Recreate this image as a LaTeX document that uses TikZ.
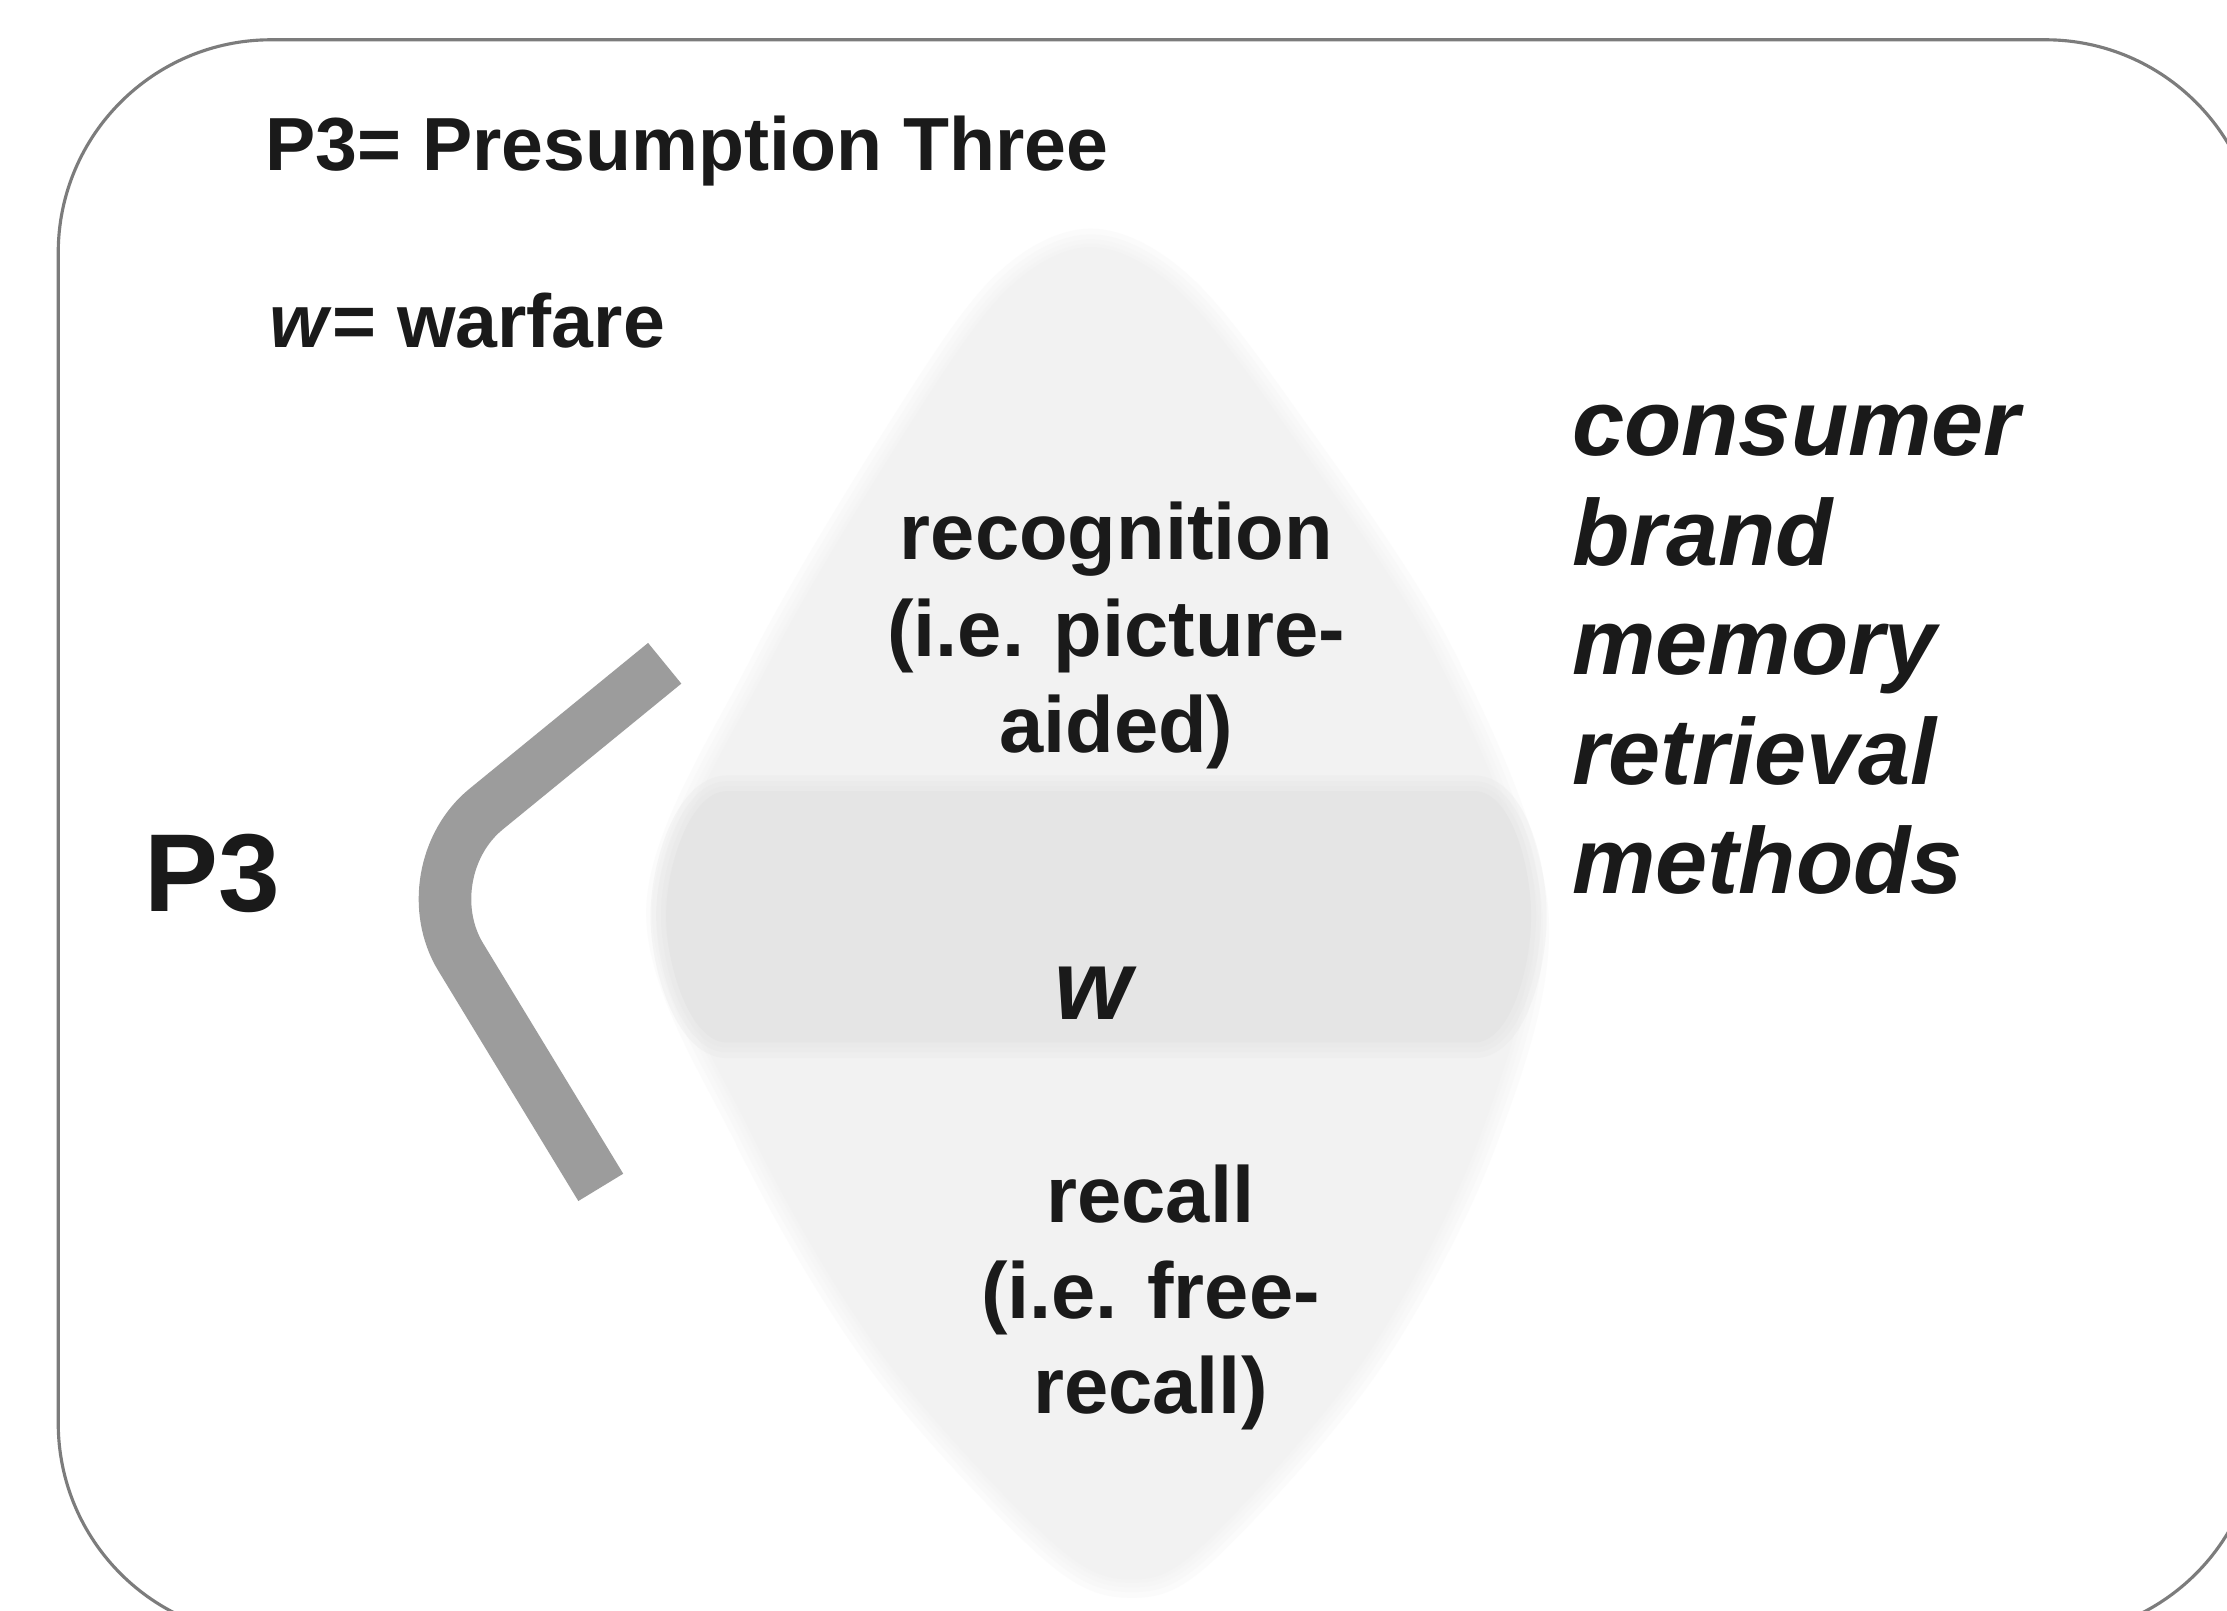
\documentclass[tikz,border=0pt]{standalone}
\usepackage{fontspec}
\setmainfont{Liberation Sans}
\begin{document}
\begin{tikzpicture}[x=1pt,y=-1pt]
\definecolor{framegray}{HTML}{7C7C7C}
\definecolor{bargray}{HTML}{9C9C9C}
\definecolor{lozenge}{HTML}{F2F2F2}
\definecolor{bandgray}{HTML}{E5E5E5}
\definecolor{ink}{HTML}{1A1A1A}
\tikzset{
  label/.style={inner sep=0pt, outer sep=0pt, text=ink},
  soft/.style={draw=#1, draw opacity=0.28},
}
\useasboundingbox (0,0) rectangle (1568,1134);
\fill[white] (0,0) rectangle (1568,1134);

% outer rounded frame (runs past the right and bottom edges)
\draw[framegray, line width=2.2pt, rounded corners=150pt] (41,28) rectangle (1590,1152);

% soft grey lozenge
\def\lozengepath{plot[smooth cycle, tension=0.55] coordinates {
  (768,174) (830,205) (905,300) (1010,460) (1077,640) (1042,800) (962,955)
  (850,1085) (797,1112) (740,1085) (622,955) (530,800) (468,640) (540,470) (640,300) (708,205)}}
\foreach \w in {26,18,11,5} {
  \draw[soft=lozenge, line width=\w pt] \lozengepath;
}
\fill[lozenge] \lozengepath;

% darker horizontal band through the middle, with rounded ends
\def\bandpath{(512,557) -- (1038,557)
  .. controls (1064,557) and (1078,610) .. (1078,645)
  .. controls (1078,680) and (1064,734) .. (1038,734)
  -- (512,734)
  .. controls (486,734) and (469,680) .. (469,645)
  .. controls (469,610) and (486,557) .. (512,557) -- cycle}
\foreach \w in {22,14,7} {
  \draw[soft=bandgray, line width=\w pt] \bandpath;
}
\fill[bandgray] \bandpath;

% bent grey bar
\coordinate (barA) at (468,467);
\coordinate (barB) at (288,614);
\coordinate (barC) at (423,836);
\draw[bargray, line width=37pt, rounded corners=70pt] (barA) -- (barB) -- (barC);

% legend
\node[label, anchor=base west, font=\fontsize{53}{60}\selectfont\bfseries] (title) at (187,120) {P3= Presumption Three};
\node[label, anchor=base west, font=\fontsize{53}{60}\selectfont\bfseries] (legend) at (190,245) {\textit{w}= warfare};

% left label
\node[label, anchor=base west, font=\fontsize{78}{84}\selectfont\bfseries] (p3) at (102,642) {P3};

% texts inside the lozenge
\node[label, anchor=base, align=center, font=\fontsize{56}{68}\selectfont\bfseries] (recog) at (786,530) {recognition\\(i.e. picture-\\aided)};
\node[label, anchor=base, font=\fontsize{70}{80}\selectfont\bfseries\itshape] (wmid) at (770,718) {w};
\node[label, anchor=base, align=center, font=\fontsize{56}{67}\selectfont\bfseries] (recall) at (810,995) {recall\\(i.e. free-\\recall)};

% right-hand list
\node[label, anchor=base west, align=left, font=\fontsize{66}{77}\selectfont\bfseries\itshape] (methods) at (1107,629) {consumer\\brand\\memory\\retrieval\\methods};
\end{tikzpicture}
\end{document}
